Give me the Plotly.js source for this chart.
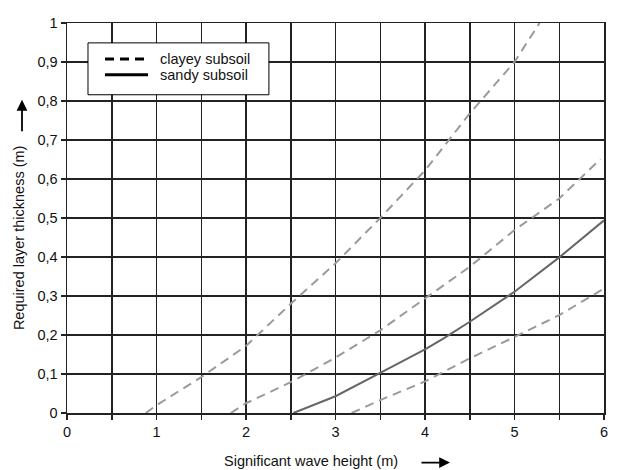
<!DOCTYPE html>
<html>
<head>
<meta charset="utf-8">
<script src="https://cdn.plot.ly/plotly-3.0.1.min.js"></script>
<style>html,body{margin:0;padding:0;background:#fff}#chart{width:633px;height:470px}</style>
</head>
<body>
<div id="chart"></div>
<script>
// Significant wave height (m) vs required layer thickness (m)
var clay12X = [0.88, 1.0, 1.5, 2.0, 2.5, 3.0, 3.5, 4.0, 4.5, 5.0, 5.28];
var clay12Y = [0.0, 0.02, 0.092, 0.172, 0.28, 0.384, 0.50, 0.622, 0.768, 0.90, 1.0];

var clay13X = [1.83, 2.0, 2.5, 3.0, 3.5, 4.0, 4.5, 5.0, 5.5, 5.96];
var clay13Y = [0.0, 0.025, 0.079, 0.142, 0.212, 0.294, 0.375, 0.469, 0.55, 0.651];

var sand12X = [2.53, 2.83, 3.0, 3.5, 4.0, 4.2, 4.5, 5.0, 5.5, 6.0];
var sand12Y = [0.0, 0.028, 0.043, 0.103, 0.163, 0.19, 0.234, 0.311, 0.399, 0.494];

var clay14X = [3.18, 3.5, 4.0, 4.5, 5.0, 5.5, 6.0];
var clay14Y = [0.0, 0.033, 0.081, 0.14, 0.195, 0.251, 0.319];

var curveLabels = ['1:2', '1:3', '1:2', '1:4'];
var legendNames = ['clayey subsoil', 'sandy subsoil'];

var yTickVals = [0, 0.1, 0.2, 0.3, 0.4, 0.5, 0.6, 0.7, 0.8, 0.9, 1];
var yTickText = ['0', '0,1', '0,2', '0,3', '0,4', '0,5', '0,6', '0,7', '0,8', '0,9', '1'];
var xTickVals = [0, 0.5, 1, 1.5, 2, 2.5, 3, 3.5, 4, 4.5, 5, 5.5, 6];
var xTickText = ['0', '', '1', '', '2', '', '3', '', '4', '', '5', '', '6'];

var dashGrey = {color: '#9a9a9a', width: 2, dash: '9px,6px'};
var solidGrey = {color: '#666666', width: 2};

var traces = [
  {x: clay12X, y: clay12Y, mode: 'lines', name: legendNames[0] + ' 1:2', line: dashGrey, showlegend: false, hoverinfo: 'skip', cliponaxis: false},
  {x: clay13X, y: clay13Y, mode: 'lines', name: legendNames[0] + ' 1:3', line: dashGrey, showlegend: false, hoverinfo: 'skip', cliponaxis: false},
  {x: sand12X, y: sand12Y, mode: 'lines', name: legendNames[1] + ' 1:2', line: solidGrey, showlegend: false, hoverinfo: 'skip', cliponaxis: false},
  {x: clay14X, y: clay14Y, mode: 'lines', name: legendNames[0] + ' 1:4', line: dashGrey, showlegend: false, hoverinfo: 'skip', cliponaxis: false}
];

var font = {family: 'Liberation Sans, Arial, sans-serif', size: 14.5, color: '#111'};

// legend key (box, sample lines, texts) placed in paper coordinates
var legBox = {x0: 0.0391, x1: 0.376, y0: 0.816, y1: 0.949};
var legLineX = [0.0708, 0.1508];
var legRowY = [0.908, 0.867];
var legTextX = 0.1695;

var shapes = [
  {type: 'rect', xref: 'paper', yref: 'paper', x0: legBox.x0, x1: legBox.x1, y0: legBox.y0, y1: legBox.y1,
   line: {color: '#000', width: 1}, fillcolor: '#fff', layer: 'above'},
  {type: 'line', xref: 'paper', yref: 'paper', x0: legLineX[0], x1: legLineX[1], y0: legRowY[0], y1: legRowY[0],
   line: {color: '#000', width: 3, dash: '9px,6px'}, layer: 'above'},
  {type: 'line', xref: 'paper', yref: 'paper', x0: legLineX[0], x1: legLineX[1], y0: legRowY[1], y1: legRowY[1],
   line: {color: '#000', width: 3}, layer: 'above'}
];

var annotations = [
  {x: 5.43, y: 1.026, xref: 'x', yref: 'y', text: curveLabels[0], showarrow: false, font: font},
  {x: 6.195, y: 0.68, xref: 'x', yref: 'y', text: curveLabels[1], showarrow: false, font: font},
  {x: 6.22, y: 0.5026, xref: 'x', yref: 'y', text: curveLabels[2], showarrow: false, font: font},
  {x: 6.22, y: 0.336, xref: 'x', yref: 'y', text: curveLabels[3], showarrow: false, font: font},
  {x: legTextX, y: legRowY[0], xref: 'paper', yref: 'paper', text: legendNames[0], showarrow: false,
   xanchor: 'left', yanchor: 'middle', font: font},
  {x: legTextX, y: legRowY[1], xref: 'paper', yref: 'paper', text: legendNames[1], showarrow: false,
   xanchor: 'left', yanchor: 'middle', font: font},
  {x: -0.0894, y: 0.451, xref: 'paper', yref: 'paper', text: 'Required layer thickness (m)', textangle: -90,
   showarrow: false, xanchor: 'center', yanchor: 'middle', font: font},
  {x: 0.4544, y: -0.124, xref: 'paper', yref: 'paper', text: 'Significant wave height (m)',
   showarrow: false, xanchor: 'center', yanchor: 'middle', font: font},
  {x: -0.0838, y: 0.803, xref: 'paper', yref: 'paper', text: '', showarrow: true, ax: 0, ay: 33,
   arrowhead: 2, arrowsize: 1.2, arrowwidth: 1.8, arrowcolor: '#000'},
  {x: 0.7132, y: -0.127, xref: 'paper', yref: 'paper', text: '', showarrow: true, ax: -30, ay: 0,
   arrowhead: 2, arrowsize: 1.2, arrowwidth: 1.8, arrowcolor: '#000'}
];

var layout = {
  width: 633, height: 470,
  margin: {l: 67, r: 29, t: 23, b: 57},
  paper_bgcolor: '#fff', plot_bgcolor: '#fff',
  font: font,
  showlegend: false,
  xaxis: {range: [0, 6], tickmode: 'array', tickvals: xTickVals, ticktext: xTickText,
          showgrid: true, gridcolor: '#222', gridwidth: 1.5, zeroline: false,
          showline: true, mirror: true, linecolor: '#222', linewidth: 1.5,
          ticks: 'outside', ticklen: 5, tickwidth: 1.5, tickcolor: '#222', fixedrange: true},
  yaxis: {range: [0, 1], tickmode: 'array', tickvals: yTickVals, ticktext: yTickText,
          showgrid: true, gridcolor: '#222', gridwidth: 1.5, zeroline: false,
          showline: true, mirror: true, linecolor: '#222', linewidth: 1.5,
          ticks: 'outside', ticklen: 5, tickwidth: 1.5, tickcolor: '#222', fixedrange: true},
  shapes: shapes,
  annotations: annotations
};

Plotly.newPlot('chart', traces, layout, {displayModeBar: false, staticPlot: true});
</script>
</body>
</html>
